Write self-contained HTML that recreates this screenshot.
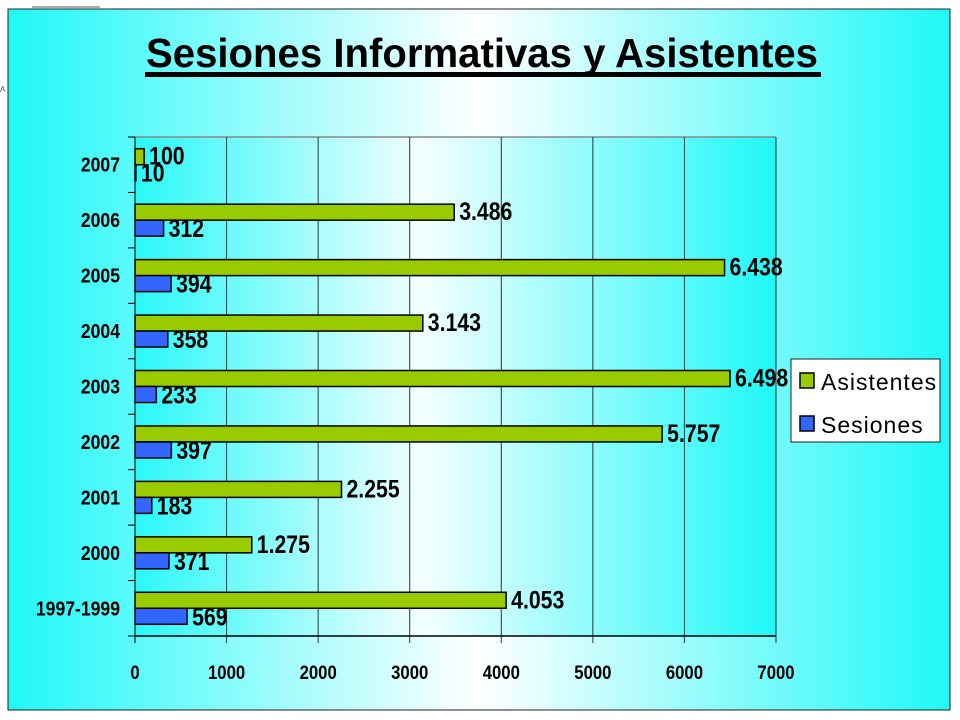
<!DOCTYPE html>
<html><head><meta charset="utf-8"><style>
body{margin:0;background:#fff;}
svg{display:block;font-family:"Liberation Sans",Arial,sans-serif;}
</style></head><body>
<svg id="chart" width="960" height="720" viewBox="0 0 960 720">
<defs>
<linearGradient id="bg" x1="0" x2="1" y1="0" y2="0">
<stop offset="0" stop-color="#1ff8f8"/><stop offset="0.5" stop-color="#ffffff"/><stop offset="1" stop-color="#1ff8f8"/>
</linearGradient>
<linearGradient id="pbg" x1="0" x2="1" y1="0" y2="0">
<stop offset="0" stop-color="#2af8f8"/><stop offset="0.45" stop-color="#f4ffff"/><stop offset="1" stop-color="#1ff8f8"/>
</linearGradient>
</defs>
<line x1="32" y1="7" x2="100" y2="7" stroke="#555" stroke-width="1"/>
<rect x="8" y="9" width="942" height="701" fill="url(#bg)" stroke="#222" stroke-width="1"/>
<text x="0" y="92" font-size="8" fill="#555">A</text>
<text x="482" y="67" text-anchor="middle" font-size="41" font-weight="bold" fill="#000" textLength="672" lengthAdjust="spacingAndGlyphs">Sesiones Informativas y Asistentes</text>
<rect x="145" y="72" width="676" height="5" fill="#000"/>
<rect x="135" y="137" width="641" height="499" fill="url(#pbg)"/>
<g id="grid"></g>
<g id="bars"></g>
<g id="labels"></g>
<g>
<rect x="791" y="359" width="149" height="83" fill="#fff" stroke="#222"/>
<rect x="800" y="373" width="14" height="15" fill="#99cc00" stroke="#000" stroke-width="1.5"/>
<text x="821" y="390" font-size="23" letter-spacing="1">Asistentes</text>
<rect x="800" y="416" width="14" height="15" fill="#3366ff" stroke="#000" stroke-width="1.5"/>
<text x="821" y="433" font-size="23" letter-spacing="1">Sesiones</text>
</g>
</svg>
<script>
const categories=["2007","2006","2005","2004","2003","2002","2001","2000","1997-1999"];
const asistentes=[100,3486,6438,3143,6498,5757,2255,1275,4053];
const sesiones=[10,312,394,358,233,397,183,371,569];
const asistentesLabels=["100","3.486","6.438","3.143","6.498","5.757","2.255","1.275","4.053"];
const sesionesLabels=["10","312","394","358","233","397","183","371","569"];
const xTicks=[0,1000,2000,3000,4000,5000,6000,7000];
const NS="http://www.w3.org/2000/svg";
const L=135,R=776,T=137,B=636,MAX=7000;
const x=v=>L+(R-L)*v/MAX;
const band=(B-T)/categories.length;
const yc=i=>T+band*(i+0.5);
function mk(tag,attrs,parent){const e=document.createElementNS(NS,tag);for(const k in attrs)e.setAttribute(k,attrs[k]);parent.appendChild(e);return e;}
const grid=document.getElementById('grid'),bars=document.getElementById('bars'),labels=document.getElementById('labels');
mk('line',{x1:L,y1:T,x2:R,y2:T,stroke:'#888','stroke-width':1.5},grid);
xTicks.forEach(t=>{
 const gl=mk('line',{x1:x(t),y1:T,x2:x(t),y2:B+7,stroke:t===0?'#000':'#333','stroke-width':1},grid);
 
 
 const tl=mk('text',{transform:'translate('+x(t)+',679) scale(0.88,1)','text-anchor':'middle','font-size':19,'font-weight':'bold'},labels);
 tl.textContent=t;
 
 
});
mk('line',{x1:L,y1:B,x2:R,y2:B,stroke:'#000','stroke-width':1.5},grid);
for(let i=0;i<=categories.length;i++){mk('line',{x1:L-7,y1:T+band*i,x2:L,y2:T+band*i,stroke:'#000'},grid);}
categories.forEach((c,i)=>{
 const cy=yc(i);
 const cl=mk('text',{transform:'translate(120,'+(cy+7)+') scale(0.88,1)','text-anchor':'end','font-size':20,'font-weight':'bold'},labels);
 cl.textContent=c;
 
 
 const g=mk('rect',{x:L,y:cy-16,width:x(asistentes[i])-L,height:16,fill:'#99cc00',stroke:'#000','stroke-width':1.5},bars);
 
 
 const b=mk('rect',{x:L,y:cy,width:x(sesiones[i])-L,height:16,fill:'#3366ff',stroke:'#000','stroke-width':1.5},bars);
 
 
 const ga=mk('text',{transform:'translate('+(x(asistentes[i])+5)+','+(cy)+') scale(0.85,1)','font-size':25,'font-weight':'bold'},labels);
 ga.textContent=asistentesLabels[i];
 
 
 const sa=mk('text',{transform:'translate('+(x(sesiones[i])+5)+','+(cy+17)+') scale(0.85,1)','font-size':25,'font-weight':'bold'},labels);
 sa.textContent=sesionesLabels[i];
 
 
});
</script>
</body></html>
